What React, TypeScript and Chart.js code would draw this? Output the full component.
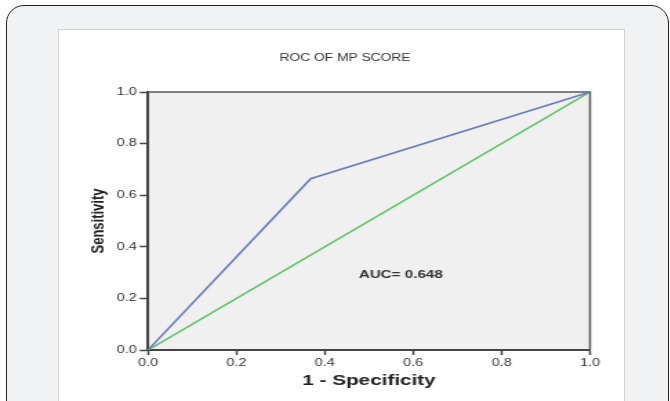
import React, { useEffect, useRef } from "react";
import { Chart, registerables } from "chart.js";

Chart.register(...registerables);

const chartTitle = "ROC OF MP SCORE";
const xAxisTitle = "1 - Specificity";
const yAxisTitle = "Sensitivity";
const aucLabel = "AUC= 0.648";
const aucLabelPos = [0.477, 0.291];

const rocFpr = [0, 0.368, 1];
const rocSens = [0, 0.664, 1];
const refX = [0, 1];
const refY = [0, 1];
const tickValues = [0, 0.2, 0.4, 0.6, 0.8, 1.0];

const STRETCH = 1.38;
const CW = 411;
const CH = 373;
const FONT = "'Liberation Sans', Arial, sans-serif";

export default function App() {
  const ref = useRef<HTMLCanvasElement | null>(null);

  useEffect(() => {
    const canvas = ref.current!;
    const decor = {
      id: "decor",
      beforeDraw(chart: any) {
        const { ctx, chartArea: a } = chart;
        ctx.save();
        ctx.fillStyle = "#f0f0f0";
        ctx.fillRect(a.left, a.top, a.right - a.left, a.bottom - a.top);
        ctx.restore();
      },
      beforeDatasetsDraw(chart: any) {
        const { ctx, chartArea: a } = chart;
        ctx.save();
        ctx.strokeStyle = "#5a5a5a";
        ctx.lineWidth = 1.5;
        ctx.beginPath();
        ctx.moveTo(a.left, a.top);
        ctx.lineTo(a.right, a.top);
        ctx.lineTo(a.right, a.bottom);
        ctx.stroke();
        ctx.restore();
      },
      afterDraw(chart: any) {
        const { ctx, scales } = chart;
        ctx.save();
        ctx.fillStyle = "#333";
        ctx.font = `10px ${FONT}`;
        ctx.textAlign = "center";
        ctx.textBaseline = "middle";
        ctx.fillText(chartTitle, 208, 30);
        ctx.font = `bold 11px ${FONT}`;
        ctx.textAlign = "left";
        ctx.fillText(
          aucLabel,
          scales.x.getPixelForValue(aucLabelPos[0]),
          scales.y.getPixelForValue(aucLabelPos[1])
        );
        ctx.restore();
      },
    };

    const chart = new Chart(canvas, {
      type: "line",
      data: {
        datasets: [
          {
            label: "ROC",
            data: rocFpr.map((x, i) => ({ x, y: rocSens[i] })),
            borderColor: "#6b7bc2",
            borderWidth: 1.6,
            pointRadius: 0,
            tension: 0,
            fill: false,
          },
          {
            label: "Reference",
            data: refX.map((x, i) => ({ x, y: refY[i] })),
            borderColor: "#5bc466",
            borderWidth: 1.6,
            pointRadius: 0,
            tension: 0,
            fill: false,
          },
        ],
      },
      options: {
        animation: false,
        responsive: false,
        devicePixelRatio: 1,
        layout: { padding: { top: 64, right: 25.5, bottom: 0, left: 0 } },
        plugins: {
          legend: { display: false },
          tooltip: { enabled: false },
          title: { display: false },
        },
        scales: {
          x: {
            type: "linear",
            position: "bottom",
            min: 0,
            max: 1,
            afterBuildTicks: (s: any) => {
              s.ticks = tickValues.map((v) => ({ value: v }));
            },
            afterFit: (s: any) => {
              s.height = 51;
            },
            ticks: {
              callback: (v: any) => Number(v).toFixed(1),
              font: { size: 10.5, family: FONT },
              color: "#333",
              padding: 1.5,
              maxRotation: 0,
            },
            grid: {
              drawOnChartArea: false,
              drawTicks: true,
              tickLength: 5,
              tickColor: "#444",
              tickWidth: 1.5,
            },
            border: { color: "#444", width: 2 },
            title: {
              display: true,
              text: xAxisTitle,
              font: { size: 15, weight: "bold", family: FONT },
              color: "#222",
              padding: { top: 0, bottom: 11 },
            },
          },
          y: {
            type: "linear",
            min: 0,
            max: 1,
            afterBuildTicks: (s: any) => {
              s.ticks = tickValues.map((v) => ({ value: v }));
            },
            afterFit: (s: any) => {
              s.width = 65.2;
            },
            ticks: {
              callback: (v: any) => Number(v).toFixed(1),
              font: { size: 10.5, family: FONT },
              color: "#333",
              padding: 2,
            },
            grid: {
              drawOnChartArea: false,
              drawTicks: true,
              tickLength: 6,
              tickColor: "#444",
              tickWidth: 1.5,
            },
            border: { color: "#444", width: 2 },
            title: {
              display: true,
              text: yAxisTitle,
              font: { size: 13, weight: "bold", family: FONT },
              color: "#222",
              padding: { top: 22, bottom: 0 },
            },
          },
        },
      },
      plugins: [decor],
    } as any);
    return () => chart.destroy();
  }, []);

  return (
    <div
      style={{
        position: "absolute",
        left: 0,
        top: 0,
        width: 670,
        height: 401,
        overflow: "hidden",
        background: "#ffffff",
      }}
    >
      <div
        style={{
          position: "absolute",
          left: 6,
          top: 5,
          width: 663,
          height: 520,
          boxSizing: "border-box",
          border: "1.5px solid #222",
          borderRadius: 18,
          background: "#f1f2f4",
        }}
      />
      <div
        style={{
          position: "absolute",
          left: 58,
          top: 29,
          width: 567,
          height: 400,
          boxSizing: "border-box",
          border: "1px solid #d2d2d2",
          background: "#ffffff",
        }}
      />
      <canvas
        ref={ref}
        width={CW}
        height={CH}
        style={{
          position: "absolute",
          left: 58,
          top: 28,
          width: CW,
          height: CH,
          transform: `scaleX(${STRETCH})`,
          transformOrigin: "0 0",
        }}
      />
    </div>
  );
}
